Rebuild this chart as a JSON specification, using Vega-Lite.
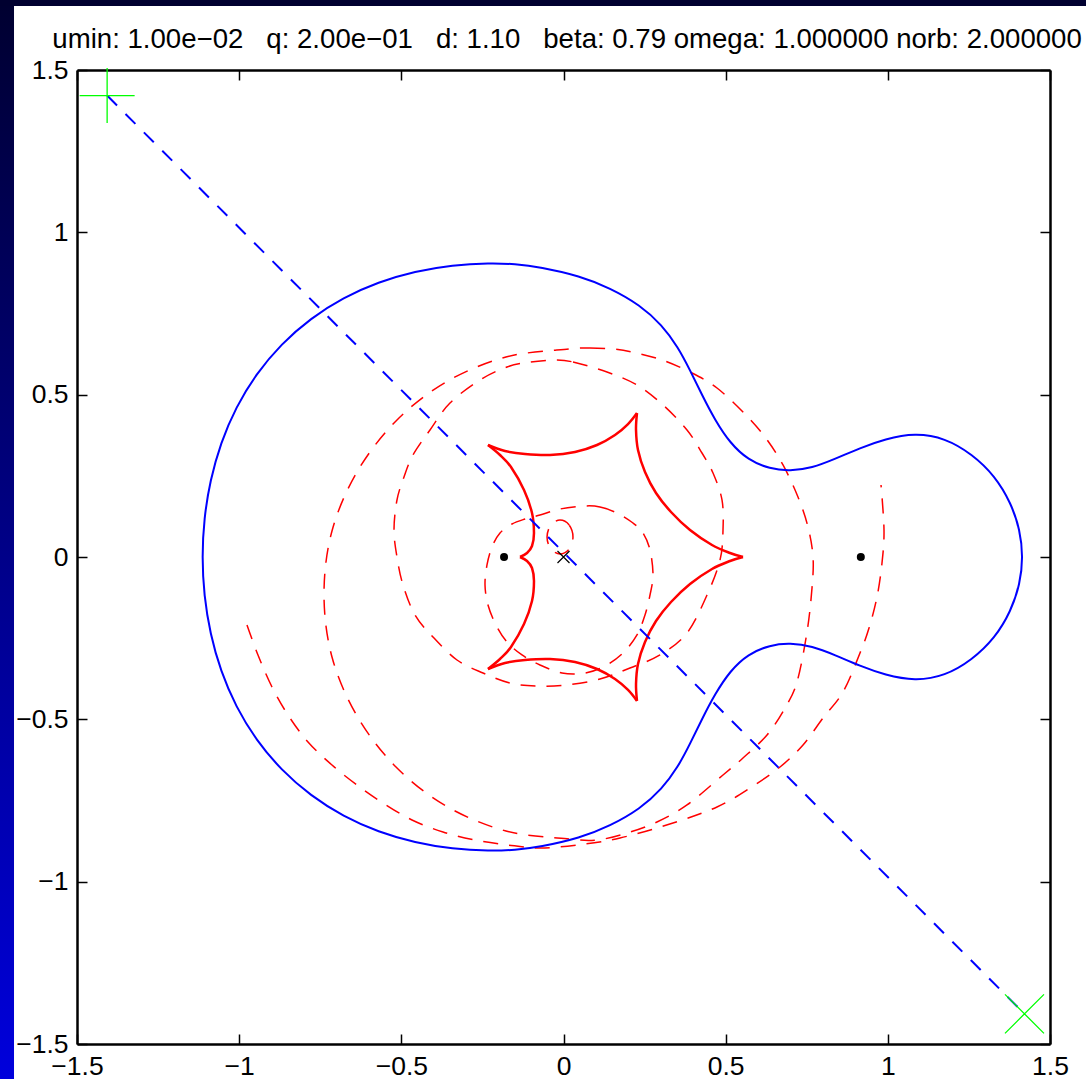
{
  "$schema": "https://vega.github.io/schema/vega-lite/v6.json",
  "width": 973,
  "height": 974,
  "autosize": {"type": "none"},
  "padding": {"left": 77, "top": 70, "right": 36, "bottom": 35},
  "background": "white",
  "config": {"view": {"stroke": null}},
  "datasets": {
    "crit": [
      {"i":0,"x":-1.1146,"y":0},{"i":1,"x":-1.1085,"y":0.1184},{"i":2,"x":-1.0895,"y":0.2358},{"i":3,"x":-1.0573,"y":0.3509},
      {"i":4,"x":-1.0102,"y":0.4614},{"i":5,"x":-0.9476,"y":0.5641},{"i":6,"x":-0.8702,"y":0.6563},{"i":7,"x":-0.7798,"y":0.7352},
      {"i":8,"x":-0.6790,"y":0.7991},{"i":9,"x":-0.5707,"y":0.8471},{"i":10,"x":-0.4578,"y":0.8799},{"i":11,"x":-0.3427,"y":0.8993},
      {"i":12,"x":-0.2266,"y":0.9055},{"i":13,"x":-0.1500,"y":0.9025},{"i":14,"x":-0.0725,"y":0.8932},{"i":15,"x":0.0509,"y":0.8655},
      {"i":16,"x":0.1434,"y":0.8285},{"i":17,"x":0.2359,"y":0.7762},{"i":18,"x":0.3037,"y":0.7146},{"i":19,"x":0.3530,"y":0.6468},
      {"i":20,"x":0.3900,"y":0.5760},{"i":21,"x":0.4270,"y":0.4990},{"i":22,"x":0.4671,"y":0.4220},{"i":23,"x":0.5134,"y":0.3511},
      {"i":24,"x":0.5689,"y":0.2988},{"i":25,"x":0.6367,"y":0.2710},{"i":26,"x":0.6984,"y":0.2649},{"i":27,"x":0.7662,"y":0.2741},
      {"i":28,"x":0.8371,"y":0.3018},{"i":29,"x":0.9142,"y":0.3357},{"i":30,"x":0.9913,"y":0.3634},{"i":31,"x":1.0838,"y":0.3819},
      {"i":32,"x":1.1763,"y":0.3665},{"i":33,"x":1.2596,"y":0.3172},{"i":34,"x":1.3305,"y":0.2495},{"i":35,"x":1.3798,"y":0.1663},
      {"i":36,"x":1.4076,"y":0.0832},{"i":37,"x":1.4169,"y":0},
      {"i":38,"x":1.4076,"y":-0.0832},{"i":39,"x":1.3798,"y":-0.1663},{"i":40,"x":1.3305,"y":-0.2495},{"i":41,"x":1.2596,"y":-0.3172},
      {"i":42,"x":1.1763,"y":-0.3665},{"i":43,"x":1.0838,"y":-0.3819},{"i":44,"x":0.9913,"y":-0.3634},{"i":45,"x":0.9142,"y":-0.3357},
      {"i":46,"x":0.8371,"y":-0.3018},{"i":47,"x":0.7662,"y":-0.2741},{"i":48,"x":0.6984,"y":-0.2649},{"i":49,"x":0.6367,"y":-0.2710},
      {"i":50,"x":0.5689,"y":-0.2988},{"i":51,"x":0.5134,"y":-0.3511},{"i":52,"x":0.4671,"y":-0.4220},{"i":53,"x":0.4270,"y":-0.4990},
      {"i":54,"x":0.3900,"y":-0.5760},{"i":55,"x":0.3530,"y":-0.6468},{"i":56,"x":0.3037,"y":-0.7146},{"i":57,"x":0.2359,"y":-0.7762},
      {"i":58,"x":0.1434,"y":-0.8285},{"i":59,"x":0.0509,"y":-0.8655},{"i":60,"x":-0.0725,"y":-0.8932},{"i":61,"x":-0.1500,"y":-0.9025},
      {"i":62,"x":-0.2266,"y":-0.9055},{"i":63,"x":-0.3427,"y":-0.8993},{"i":64,"x":-0.4578,"y":-0.8799},{"i":65,"x":-0.5707,"y":-0.8471},
      {"i":66,"x":-0.6790,"y":-0.7991},{"i":67,"x":-0.7798,"y":-0.7352},{"i":68,"x":-0.8702,"y":-0.6563},{"i":69,"x":-0.9476,"y":-0.5641},
      {"i":70,"x":-1.0102,"y":-0.4614},{"i":71,"x":-1.0573,"y":-0.3509},{"i":72,"x":-1.0895,"y":-0.2358},{"i":73,"x":-1.1085,"y":-0.1184}
    ],
    "caustic": [
      {"s":"a","i":0,"x":-0.1341,"y":0},{"s":"a","i":1,"x":-0.1125,"y":0.0123},{"s":"a","i":2,"x":-0.0971,"y":0.0339},
      {"s":"a","i":3,"x":-0.0910,"y":0.0739},{"s":"a","i":4,"x":-0.0971,"y":0.1355},{"s":"a","i":5,"x":-0.1218,"y":0.2064},
      {"s":"a","i":6,"x":-0.1619,"y":0.2772},{"s":"a","i":7,"x":-0.1958,"y":0.3142},{"s":"a","i":8,"x":-0.2328,"y":0.3450},
      {"s":"b","i":0,"x":-0.2328,"y":0.3450},{"s":"b","i":1,"x":-0.1804,"y":0.3265},{"s":"b","i":2,"x":-0.1187,"y":0.3172},
      {"s":"b","i":3,"x":-0.0416,"y":0.3142},{"s":"b","i":4,"x":0.0355,"y":0.3234},{"s":"b","i":5,"x":0.1033,"y":0.3450},
      {"s":"b","i":6,"x":0.1588,"y":0.3758},{"s":"b","i":7,"x":0.1989,"y":0.4096},{"s":"b","i":8,"x":0.2266,"y":0.4435},
      {"s":"c","i":0,"x":0.2266,"y":0.4435},{"s":"c","i":1,"x":0.2236,"y":0.3912},{"s":"c","i":2,"x":0.2297,"y":0.3296},
      {"s":"c","i":3,"x":0.2513,"y":0.2618},{"s":"c","i":4,"x":0.2852,"y":0.1971},{"s":"c","i":5,"x":0.3315,"y":0.1386},
      {"s":"c","i":6,"x":0.3901,"y":0.0832},{"s":"c","i":7,"x":0.4579,"y":0.0370},{"s":"c","i":8,"x":0.5134,"y":0.0123},
      {"s":"c","i":9,"x":0.5535,"y":0},
      {"s":"d","i":0,"x":-0.1341,"y":0},{"s":"d","i":1,"x":-0.1125,"y":-0.0123},{"s":"d","i":2,"x":-0.0971,"y":-0.0339},
      {"s":"d","i":3,"x":-0.0910,"y":-0.0739},{"s":"d","i":4,"x":-0.0971,"y":-0.1355},{"s":"d","i":5,"x":-0.1218,"y":-0.2064},
      {"s":"d","i":6,"x":-0.1619,"y":-0.2772},{"s":"d","i":7,"x":-0.1958,"y":-0.3142},{"s":"d","i":8,"x":-0.2328,"y":-0.3450},
      {"s":"e","i":0,"x":-0.2328,"y":-0.3450},{"s":"e","i":1,"x":-0.1804,"y":-0.3265},{"s":"e","i":2,"x":-0.1187,"y":-0.3172},
      {"s":"e","i":3,"x":-0.0416,"y":-0.3142},{"s":"e","i":4,"x":0.0355,"y":-0.3234},{"s":"e","i":5,"x":0.1033,"y":-0.3450},
      {"s":"e","i":6,"x":0.1588,"y":-0.3758},{"s":"e","i":7,"x":0.1989,"y":-0.4096},{"s":"e","i":8,"x":0.2266,"y":-0.4435},
      {"s":"f","i":0,"x":0.2266,"y":-0.4435},{"s":"f","i":1,"x":0.2236,"y":-0.3912},{"s":"f","i":2,"x":0.2297,"y":-0.3296},
      {"s":"f","i":3,"x":0.2513,"y":-0.2618},{"s":"f","i":4,"x":0.2852,"y":-0.1971},{"s":"f","i":5,"x":0.3315,"y":-0.1386},
      {"s":"f","i":6,"x":0.3901,"y":-0.0832},{"s":"f","i":7,"x":0.4579,"y":-0.0370},{"s":"f","i":8,"x":0.5134,"y":-0.0123},
      {"s":"f","i":9,"x":0.5535,"y":0}
    ],
    "loops": [
      {"c":"C1","i":0,"x":0.0170,"y":0.6407},{"c":"C1","i":1,"x":0.0817,"y":0.6437},{"c":"C1","i":2,"x":0.1526,"y":0.6407},
      {"c":"C1","i":3,"x":0.2112,"y":0.6314},{"c":"C1","i":4,"x":0.3037,"y":0.6068},{"c":"C1","i":5,"x":0.3962,"y":0.5667},
      {"c":"C1","i":6,"x":0.4733,"y":0.5205},{"c":"C1","i":7,"x":0.5534,"y":0.4466},{"c":"C1","i":8,"x":0.6213,"y":0.3696},
      {"c":"C1","i":9,"x":0.6768,"y":0.2834},{"c":"C1","i":10,"x":0.7230,"y":0.1848},{"c":"C1","i":11,"x":0.7539,"y":0.0924},
      {"c":"C1","i":12,"x":0.7693,"y":0},{"c":"C1","i":13,"x":0.7662,"y":-0.0955},{"c":"C1","i":14,"x":0.7508,"y":-0.2310},
      {"c":"C1","i":15,"x":0.7199,"y":-0.3850},{"c":"C1","i":16,"x":0.6829,"y":-0.4651},{"c":"C1","i":17,"x":0.6275,"y":-0.5482},
      {"c":"C1","i":18,"x":0.5534,"y":-0.6191},{"c":"C1","i":19,"x":0.4918,"y":-0.6714},{"c":"C1","i":20,"x":0.3808,"y":-0.7638},
      {"c":"C1","i":21,"x":0.2883,"y":-0.8162},{"c":"C1","i":22,"x":0.1958,"y":-0.8501},{"c":"C1","i":23,"x":0.1033,"y":-0.8717},
      {"c":"C1","i":24,"x":0.0170,"y":-0.8686},{"c":"C1","i":25,"x":-0.1773,"y":-0.8439},{"c":"C1","i":26,"x":-0.3623,"y":-0.7669},
      {"c":"C1","i":27,"x":-0.5164,"y":-0.6468},{"c":"C1","i":28,"x":-0.6367,"y":-0.4897},{"c":"C1","i":29,"x":-0.7138,"y":-0.3080},
      {"c":"C1","i":30,"x":-0.7384,"y":-0.1140},{"c":"C1","i":31,"x":-0.7138,"y":0.0801},{"c":"C1","i":32,"x":-0.6367,"y":0.2618},
      {"c":"C1","i":33,"x":-0.5164,"y":0.4189},{"c":"C1","i":34,"x":-0.3623,"y":0.5390},{"c":"C1","i":35,"x":-0.1773,"y":0.6160},
      {"c":"C2","i":0,"x":-0.0200,"y":0.6068},{"c":"C2","i":1,"x":0.0293,"y":0.6006},{"c":"C2","i":2,"x":0.1341,"y":0.5698},
      {"c":"C2","i":3,"x":0.2266,"y":0.5298},{"c":"C2","i":4,"x":0.3068,"y":0.4682},{"c":"C2","i":5,"x":0.3808,"y":0.3912},
      {"c":"C2","i":6,"x":0.4270,"y":0.3203},{"c":"C2","i":7,"x":0.4610,"y":0.2587},{"c":"C2","i":8,"x":0.4887,"y":0.1756},
      {"c":"C2","i":9,"x":0.4918,"y":0.0832},{"c":"C2","i":10,"x":0.4826,"y":-0.0092},{"c":"C2","i":11,"x":0.4425,"y":-0.1170},
      {"c":"C2","i":12,"x":0.3808,"y":-0.2341},{"c":"C2","i":13,"x":0.2975,"y":-0.3018},{"c":"C2","i":14,"x":0.2050,"y":-0.3419},
      {"c":"C2","i":15,"x":0.1125,"y":-0.3758},{"c":"C2","i":16,"x":0.0108,"y":-0.3942},{"c":"C2","i":17,"x":-0.0817,"y":-0.3973},
      {"c":"C2","i":18,"x":-0.1650,"y":-0.3881},{"c":"C2","i":19,"x":-0.2482,"y":-0.3573},{"c":"C2","i":20,"x":-0.3284,"y":-0.3172},
      {"c":"C2","i":21,"x":-0.4024,"y":-0.2464},{"c":"C2","i":22,"x":-0.4579,"y":-0.1786},{"c":"C2","i":23,"x":-0.4949,"y":-0.0862},
      {"c":"C2","i":24,"x":-0.5134,"y":0},{"c":"C2","i":25,"x":-0.5226,"y":0.0832},{"c":"C2","i":26,"x":-0.5134,"y":0.1756},
      {"c":"C2","i":27,"x":-0.4918,"y":0.2464},{"c":"C2","i":28,"x":-0.4641,"y":0.3142},{"c":"C2","i":29,"x":-0.4116,"y":0.3912},
      {"c":"C2","i":30,"x":-0.3500,"y":0.4743},{"c":"C2","i":31,"x":-0.2575,"y":0.5452},{"c":"C2","i":32,"x":-0.1742,"y":0.5852},
      {"c":"C2","i":33,"x":-0.1033,"y":0.6006},
      {"c":"C3","i":0,"x":0.0663,"y":0.1571},{"c":"C3","i":1,"x":0.1125,"y":0.1540},{"c":"C3","i":2,"x":0.1650,"y":0.1355},
      {"c":"C3","i":3,"x":0.2143,"y":0.1047},{"c":"C3","i":4,"x":0.2451,"y":0.0739},{"c":"C3","i":5,"x":0.2667,"y":0.0216},
      {"c":"C3","i":6,"x":0.2760,"y":-0.0554},{"c":"C3","i":7,"x":0.2667,"y":-0.1170},{"c":"C3","i":8,"x":0.2513,"y":-0.1786},
      {"c":"C3","i":9,"x":0.2266,"y":-0.2402},{"c":"C3","i":10,"x":0.1835,"y":-0.2957},{"c":"C3","i":11,"x":0.1280,"y":-0.3357},
      {"c":"C3","i":12,"x":0.0663,"y":-0.3573},{"c":"C3","i":13,"x":-0.0046,"y":-0.3573},{"c":"C3","i":14,"x":-0.0725,"y":-0.3326},
      {"c":"C3","i":15,"x":-0.1280,"y":-0.3018},{"c":"C3","i":16,"x":-0.1742,"y":-0.2618},{"c":"C3","i":17,"x":-0.2081,"y":-0.2094},
      {"c":"C3","i":18,"x":-0.2328,"y":-0.1478},{"c":"C3","i":19,"x":-0.2420,"y":-0.0862},{"c":"C3","i":20,"x":-0.2359,"y":-0.0246},
      {"c":"C3","i":21,"x":-0.2205,"y":0.0308},{"c":"C3","i":22,"x":-0.1958,"y":0.0739},{"c":"C3","i":23,"x":-0.1588,"y":0.1016},
      {"c":"C3","i":24,"x":-0.1187,"y":0.1170},{"c":"C3","i":25,"x":-0.0725,"y":0.1294},{"c":"C3","i":26,"x":-0.0108,"y":0.1478},
      {"c":"C5","i":0,"x":0.0292,"y":0.0616},{"c":"C5","i":1,"x":0.0175,"y":0.0984},{"c":"C5","i":2,"x":-0.0108,"y":0.1136},
      {"c":"C5","i":3,"x":-0.0391,"y":0.0984},{"c":"C5","i":4,"x":-0.0508,"y":0.0616},{"c":"C5","i":5,"x":-0.0391,"y":0.0248},
      {"c":"C5","i":6,"x":-0.0108,"y":0.0096},{"c":"C5","i":7,"x":0.0175,"y":0.0248}
    ],
    "arc": [
      {"i":0,"x":-0.9759,"y":-0.2094},{"i":1,"x":-0.9420,"y":-0.3018},{"i":2,"x":-0.8988,"y":-0.4004},{"i":3,"x":-0.8495,"y":-0.4866},
      {"i":4,"x":-0.7878,"y":-0.5698},{"i":5,"x":-0.7138,"y":-0.6407},{"i":6,"x":-0.6367,"y":-0.7023},{"i":7,"x":-0.5565,"y":-0.7577},
      {"i":8,"x":-0.4671,"y":-0.8101},{"i":9,"x":-0.3715,"y":-0.8470},{"i":10,"x":-0.2729,"y":-0.8717},{"i":11,"x":-0.1711,"y":-0.8871},
      {"i":12,"x":-0.0725,"y":-0.8963},{"i":13,"x":0.0416,"y":-0.8871},{"i":14,"x":0.1742,"y":-0.8655},{"i":15,"x":0.3376,"y":-0.8193},
      {"i":16,"x":0.4733,"y":-0.7700},{"i":17,"x":0.5751,"y":-0.7115},{"i":18,"x":0.6676,"y":-0.6468},{"i":19,"x":0.7385,"y":-0.5790},
      {"i":20,"x":0.8001,"y":-0.4959},{"i":21,"x":0.8618,"y":-0.4158},{"i":22,"x":0.9142,"y":-0.2957},{"i":23,"x":0.9420,"y":-0.2187},
      {"i":24,"x":0.9666,"y":-0.1232},{"i":25,"x":0.9820,"y":-0.0185},{"i":26,"x":0.9882,"y":0.0832},{"i":27,"x":0.9790,"y":0.2218}
    ],
    "track": [{"x":-1.4071,"y":1.4213},{"x":1.4213,"y":-1.4071}],
    "lenses": [{"x":-0.1833,"y":0},{"x":0.9167,"y":0}],
    "com": [{"x":0,"y":0}],
    "start": [{"x":-1.4071,"y":1.4213}],
    "end": [{"x":1.4213,"y":-1.4071}]
  },
  "layer": [
    {
      "data": {"values": [{"part": "left band"}]},
      "mark": {"type": "rect", "clip": false, "fill": {"gradient": "linear", "x1": 0, "y1": 0, "x2": 0, "y2": 1, "stops": [{"offset": 0, "color": "#000030"}, {"offset": 1, "color": "#0000dc"}]}},
      "encoding": {
        "x": {"datum": -1.7374, "type": "quantitative", "scale": {"domain": [-1.5, 1.5], "nice": false, "zero": false, "clamp": false}, "axis": null},
        "x2": {"datum": -1.6942},
        "y": {"datum": 1.7156, "type": "quantitative", "scale": {"domain": [-1.5, 1.5], "nice": false, "zero": false, "clamp": false}, "axis": null},
        "y2": {"datum": -1.6078}
      }
    },
    {
      "data": {"values": [{"part": "top band"}]},
      "mark": {"type": "rect", "clip": false, "fill": "#000030"},
      "encoding": {
        "x": {"datum": -1.7374, "type": "quantitative", "scale": {"domain": [-1.5, 1.5], "nice": false, "zero": false, "clamp": false}, "axis": null},
        "x2": {"datum": 1.6110},
        "y": {"datum": 1.7156, "type": "quantitative", "scale": {"domain": [-1.5, 1.5], "nice": false, "zero": false, "clamp": false}, "axis": null},
        "y2": {"datum": 1.6971}
      }
    },
    {
      "data": {"values": [{"part": "title"}]},
      "mark": {"type": "text", "clip": false, "text": "umin: 1.00e−02 \u00a0\u00a0q: 2.00e−01 \u00a0\u00a0d: 1.10 \u00a0\u00a0beta: 0.79 omega: 1.000000 norb: 2.000000",
        "font": "Liberation Sans", "fontSize": 27.6, "color": "black", "align": "center", "baseline": "alphabetic"},
      "encoding": {
        "x": {"datum": 0.011, "type": "quantitative", "scale": {"domain": [-1.5, 1.5], "nice": false, "zero": false, "clamp": false}, "axis": null},
        "y": {"datum": 1.5678, "type": "quantitative", "scale": {"domain": [-1.5, 1.5], "nice": false, "zero": false, "clamp": false}, "axis": null}
      }
    },
    {
      "data": {"name": "loops"},
      "mark": {"type": "line", "interpolate": "cardinal-closed", "color": "#ff0000", "strokeWidth": 1.5, "strokeDash": [15, 11]},
      "encoding": {
        "x": {"field": "x", "type": "quantitative", "scale": {"domain": [-1.5, 1.5], "nice": false, "zero": false, "clamp": false},
          "axis": {"orient": "bottom", "values": [-1.5, -1, -0.5, 0, 0.5, 1, 1.5], "format": "~g", "title": null, "grid": false,
            "tickSize": -10, "tickWidth": 1.5, "tickColor": "black", "domainColor": "black", "domainWidth": 2.5,
            "labelFont": "Liberation Sans", "labelFontSize": 26.5, "labelColor": "black", "labelPadding": 19,
            "labelFlush": false, "labelOverlap": false, "labelBound": false,
            "encode": {"labels": {"update": {"dx": {"signal": "datum.value < 0 ? -8 : 0"}}}}}},
        "y": {"field": "y", "type": "quantitative", "scale": {"domain": [-1.5, 1.5], "nice": false, "zero": false, "clamp": false},
          "axis": {"orient": "left", "values": [-1.5, -1, -0.5, 0, 0.5, 1, 1.5], "format": "~g", "title": null, "grid": false,
            "tickSize": -10, "tickWidth": 1.5, "tickColor": "black", "domainColor": "black", "domainWidth": 2.5,
            "labelFont": "Liberation Sans", "labelFontSize": 26.5, "labelColor": "black", "labelPadding": 19,
            "labelFlush": false, "labelOverlap": false, "labelBound": false}},
        "detail": {"field": "c"},
        "order": {"field": "i", "type": "quantitative"}
      }
    },
    {
      "data": {"name": "arc"},
      "mark": {"type": "line", "interpolate": "cardinal", "color": "#ff0000", "strokeWidth": 1.5, "strokeDash": [15, 11]},
      "encoding": {
        "x": {"field": "x", "type": "quantitative", "scale": {"domain": [-1.5, 1.5], "nice": false, "zero": false, "clamp": false}, "axis": null},
        "y": {"field": "y", "type": "quantitative", "scale": {"domain": [-1.5, 1.5], "nice": false, "zero": false, "clamp": false}, "axis": null},
        "order": {"field": "i", "type": "quantitative"}
      }
    },
    {
      "data": {"name": "crit"},
      "mark": {"type": "line", "interpolate": "basis-closed", "color": "#0000ff", "strokeWidth": 2},
      "encoding": {
        "x": {"field": "x", "type": "quantitative", "scale": {"domain": [-1.5, 1.5], "nice": false, "zero": false, "clamp": false}, "axis": null},
        "y": {"field": "y", "type": "quantitative", "scale": {"domain": [-1.5, 1.5], "nice": false, "zero": false, "clamp": false}, "axis": null},
        "order": {"field": "i", "type": "quantitative"}
      }
    },
    {
      "data": {"name": "caustic"},
      "mark": {"type": "line", "interpolate": "cardinal", "color": "#ff0000", "strokeWidth": 2.5},
      "encoding": {
        "x": {"field": "x", "type": "quantitative", "scale": {"domain": [-1.5, 1.5], "nice": false, "zero": false, "clamp": false}, "axis": null},
        "y": {"field": "y", "type": "quantitative", "scale": {"domain": [-1.5, 1.5], "nice": false, "zero": false, "clamp": false}, "axis": null},
        "detail": {"field": "s"},
        "order": {"field": "i", "type": "quantitative"}
      }
    },
    {
      "data": {"name": "track"},
      "mark": {"type": "line", "color": "#0000ff", "strokeWidth": 2, "strokeDash": [14, 12]},
      "encoding": {
        "x": {"field": "x", "type": "quantitative", "scale": {"domain": [-1.5, 1.5], "nice": false, "zero": false, "clamp": false},
          "axis": {"orient": "top", "values": [-1.5, -1, -0.5, 0, 0.5, 1, 1.5], "title": null, "grid": false, "labels": false,
            "tickSize": -10, "tickWidth": 1.5, "tickColor": "black", "domainColor": "black", "domainWidth": 2.5}},
        "y": {"field": "y", "type": "quantitative", "scale": {"domain": [-1.5, 1.5], "nice": false, "zero": false, "clamp": false},
          "axis": {"orient": "right", "values": [-1.5, -1, -0.5, 0, 0.5, 1, 1.5], "title": null, "grid": false, "labels": false,
            "tickSize": -10, "tickWidth": 1.5, "tickColor": "black", "domainColor": "black", "domainWidth": 2.5}}
      }
    },
    {
      "data": {"name": "lenses"},
      "mark": {"type": "point", "shape": "circle", "filled": true, "color": "black", "size": 64, "opacity": 1},
      "encoding": {
        "x": {"field": "x", "type": "quantitative", "scale": {"domain": [-1.5, 1.5], "nice": false, "zero": false, "clamp": false}, "axis": null},
        "y": {"field": "y", "type": "quantitative", "scale": {"domain": [-1.5, 1.5], "nice": false, "zero": false, "clamp": false}, "axis": null}
      }
    },
    {
      "data": {"name": "com"},
      "mark": {"type": "point", "shape": "M-1,-1L1,1M-1,1L1,-1", "filled": false, "color": "black", "strokeWidth": 1.2, "size": 144, "opacity": 1},
      "encoding": {
        "x": {"field": "x", "type": "quantitative", "scale": {"domain": [-1.5, 1.5], "nice": false, "zero": false, "clamp": false}, "axis": null},
        "y": {"field": "y", "type": "quantitative", "scale": {"domain": [-1.5, 1.5], "nice": false, "zero": false, "clamp": false}, "axis": null}
      }
    },
    {
      "data": {"name": "start"},
      "mark": {"type": "point", "shape": "M-1,0L1,0M0,-1L0,1", "filled": false, "color": "#00ff00", "strokeWidth": 1.3, "size": 3025, "opacity": 1},
      "encoding": {
        "x": {"field": "x", "type": "quantitative", "scale": {"domain": [-1.5, 1.5], "nice": false, "zero": false, "clamp": false}, "axis": null},
        "y": {"field": "y", "type": "quantitative", "scale": {"domain": [-1.5, 1.5], "nice": false, "zero": false, "clamp": false}, "axis": null}
      }
    },
    {
      "data": {"name": "end"},
      "mark": {"type": "point", "shape": "M-1,-1L1,1M-1,1L1,-1", "filled": false, "color": "#00ff00", "strokeWidth": 1.3, "size": 1521, "opacity": 1},
      "encoding": {
        "x": {"field": "x", "type": "quantitative", "scale": {"domain": [-1.5, 1.5], "nice": false, "zero": false, "clamp": false}, "axis": null},
        "y": {"field": "y", "type": "quantitative", "scale": {"domain": [-1.5, 1.5], "nice": false, "zero": false, "clamp": false}, "axis": null}
      }
    }
  ],
  "resolve": {"axis": {"x": "independent", "y": "independent"}}
}
